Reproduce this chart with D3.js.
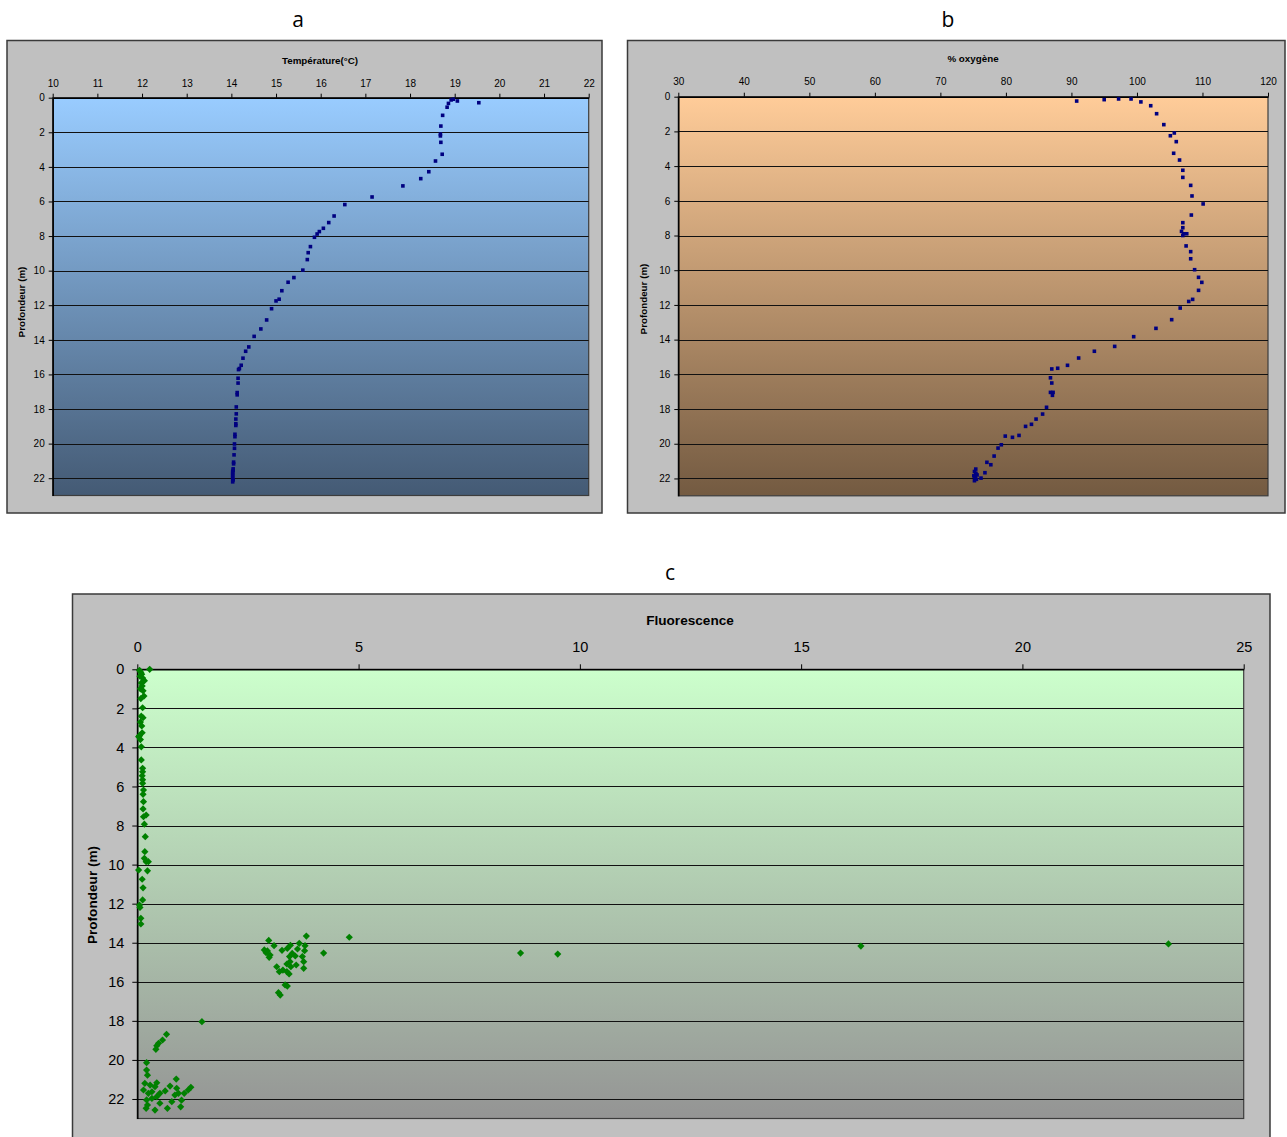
<!DOCTYPE html>
<html lang="fr">
<head>
<meta charset="UTF-8">
<title>Profils</title>
<script src="https://d3js.org/d3.v7.min.js"></script>
<style>
  body { margin: 0; background: #fff; }
  text { font-family: "Liberation Sans", Arial, sans-serif; fill: #000; }
</style>
</head>
<body>
<script>
// ---- données ----
const depthTicks = [0, 2, 4, 6, 8, 10, 12, 14, 16, 18, 20, 22];
const tempTicks = [10, 11, 12, 13, 14, 15, 16, 17, 18, 19, 20, 21, 22];
const oxyTicks = [30, 40, 50, 60, 70, 80, 90, 100, 110, 120];
const fluoTicks = [0, 5, 10, 15, 20, 25];

// a : température (°C) / profondeur (m)
const tempValues = [
  19.54, 19.06, 18.97, 18.92, 18.86, 18.83, 18.73, 18.69, 18.68, 18.68,
  18.69, 18.72, 18.57, 18.42, 18.24, 17.84, 17.15, 16.54, 16.30, 16.18,
  16.06, 15.97, 15.92, 15.86, 15.77, 15.72, 15.70, 15.60, 15.40, 15.27,
  15.13, 15.07, 15.00, 14.90, 14.79, 14.66, 14.51, 14.39, 14.32, 14.26,
  14.22, 14.18, 14.16, 14.15, 14.15, 14.13, 14.13, 14.11, 14.11, 14.10,
  14.10, 14.10, 14.08, 14.08, 14.07, 14.07, 14.06, 14.05, 14.05, 14.04,
  14.03, 14.03, 14.03, 14.03, 14.03, 14.04, 14.03, 14.04
];
const tempDepth = [
  0.29, 0.19, 0.09, 0.13, 0.33, 0.55, 1.02, 1.64, 2.10, 2.21,
  2.58, 3.27, 3.66, 4.28, 4.68, 5.10, 5.74, 6.18, 6.84, 7.22,
  7.55, 7.74, 7.88, 8.07, 8.61, 8.96, 9.36, 9.97, 10.40, 10.67,
  11.16, 11.65, 11.75, 12.20, 12.85, 13.37, 13.80, 14.41, 14.66, 15.06,
  15.47, 15.66, 15.72, 16.22, 16.50, 17.05, 17.18, 17.88, 18.28, 18.58,
  18.85, 18.95, 19.46, 19.60, 20.02, 20.27, 20.65, 21.07, 21.17, 21.46,
  21.62, 21.71, 21.81, 21.90, 22.00, 22.10, 22.21, 21.55
];

// b : % oxygène / profondeur (m)
const oxyValues = [
  90.8, 95.0, 97.2, 99.1, 100.6, 102.1, 103.0, 104.1, 105.7, 105.1,
  106.0, 105.6, 106.5, 107.0, 107.0, 108.2, 108.4, 110.1, 108.3, 107.0,
  107.0, 106.8, 107.1, 107.6, 107.0, 107.5, 108.2, 108.2, 108.8, 109.4,
  109.9, 109.4, 108.5, 107.9, 106.6, 105.3, 102.9, 99.5, 96.6, 93.5,
  91.1, 89.4, 87.9, 87.0, 86.8, 87.0, 86.8, 87.2, 87.1, 86.2,
  85.6, 84.6, 83.9, 83.0, 82.0, 81.0, 79.9, 79.3, 78.8, 78.2,
  77.7, 77.1, 76.8, 76.2, 75.4, 75.2, 75.4, 75.1, 75.3, 75.5,
  75.2, 75.4, 75.3, 75.6
];
const oxyDepth = [
  0.25, 0.17, 0.13, 0.13, 0.30, 0.52, 0.98, 1.61, 2.09, 2.25,
  2.59, 3.26, 3.65, 4.24, 4.65, 5.11, 5.72, 6.18, 6.82, 7.26,
  7.55, 7.76, 7.90, 7.90, 8.00, 8.60, 8.93, 9.34, 9.97, 10.41,
  10.70, 11.16, 11.68, 11.80, 12.18, 12.85, 13.35, 13.83, 14.39, 14.67,
  15.06, 15.48, 15.65, 15.69, 16.20, 16.50, 17.04, 17.04, 17.21, 17.90,
  18.29, 18.58, 18.88, 19.00, 19.52, 19.63, 19.56, 20.06, 20.25, 20.71,
  21.21, 21.07, 21.67, 21.98, 21.46, 21.60, 21.75, 21.85, 21.95, 22.05,
  22.13, 21.70, 21.90, 21.80
];

// c : fluorescence / profondeur (m)
const fluoValues = [
  0.28, 0.05, 0.08, 0.10, 0.06, 0.12, 0.16, 0.09, 0.11, 0.07,
  0.13, 0.15, 0.08, 0.12, 0.09, 0.13, 0.07, 0.10, 0.11, 0.05,
  0.03, 0.07, 0.09, 0.09, 0.12, 0.12, 0.11, 0.12, 0.12, 0.14,
  0.13, 0.14, 0.13, 0.20, 0.14, 0.16, 0.18, 0.17, 0.16, 0.25,
  0.20, 0.03, 0.23, 0.11, 0.13, 0.12, 0.05, 0.06, 0.08, 0.08,
  2.97, 2.87, 2.94, 3.00, 2.98, 2.91, 3.09, 3.27, 3.39, 3.46,
  3.66, 3.82, 3.79, 3.78, 3.62, 3.50, 3.57, 3.44, 3.73, 3.76,
  3.76, 3.59, 3.45, 3.38, 3.15, 3.21, 3.29, 3.38, 3.43, 3.47,
  3.34, 3.39, 3.19, 3.23, 4.21, 4.79, 8.66, 9.50, 16.35, 23.30,
  1.46, 0.66, 0.57, 0.48, 0.44, 0.42, 0.21, 0.21, 0.23, 0.88,
  0.74, 1.21, 1.15, 1.06, 0.89, 0.93, 0.85, 0.63, 0.51, 0.44,
  0.51, 0.78, 1.00, 0.98, 0.68, 0.40, 0.20, 0.29, 0.17, 0.14,
  0.25, 0.33, 0.40, 0.33, 0.21, 0.23, 0.44
];
const fluoDepth = [
  0.00, 0.05, 0.15, 0.25, 0.35, 0.45, 0.58, 0.70, 0.85, 1.00,
  1.10, 1.37, 1.50, 1.97, 2.40, 2.48, 2.70, 2.90, 3.25, 3.40,
  3.45, 3.60, 3.97, 4.64, 5.07, 5.25, 5.45, 5.65, 5.84, 6.18,
  6.40, 6.78, 7.15, 7.46, 7.55, 7.93, 8.57, 9.34, 9.68, 9.85,
  9.85, 10.28, 10.32, 10.75, 11.19, 11.81, 12.07, 12.19, 12.75, 13.04,
  13.88, 14.37, 14.42, 14.63, 14.75, 14.51, 14.15, 14.39, 14.29, 14.13,
  14.03, 13.66, 14.15, 14.41, 14.32, 14.55, 14.68, 14.71, 14.71, 14.97,
  15.31, 15.14, 14.97, 15.09, 15.23, 15.48, 15.40, 15.48, 15.60, 15.23,
  16.16, 16.22, 16.56, 16.68, 14.53, 13.72, 14.53, 14.58, 14.17, 14.06,
  18.04, 18.69, 18.98, 19.15, 19.27, 19.46, 20.14, 20.52, 20.78, 20.98,
  21.34, 21.40, 21.54, 21.71, 21.45, 21.71, 21.80, 21.59, 21.71, 21.88,
  22.22, 22.14, 22.06, 22.40, 22.48, 22.57, 22.48, 21.29, 21.20, 21.54,
  21.71, 21.63, 21.37, 21.97, 22.05, 22.31, 21.17
];

const svg = d3.select("body").append("svg")
  .attr("width", 1287)
  .attr("height", 1137);

const defs = svg.append("defs");

function drawPanel(p) {
  // dégradé du fond
  const grad = defs.append("linearGradient")
    .attr("id", "grad-" + p.id)
    .attr("x1", 0).attr("y1", 0).attr("x2", 0).attr("y2", 1);
  grad.append("stop").attr("offset", "0%").attr("stop-color", p.top);
  grad.append("stop").attr("offset", "100%").attr("stop-color", p.bottom);

  // titre (a, b, c)
  svg.append("text")
    .attr("x", p.letterX).attr("y", p.letterY)
    .attr("text-anchor", "middle")
    .style("font-family", "'Open Sans', 'Liberation Sans', sans-serif")
    .style("font-size", "21px")
    .text(p.letter);

  // cadre gris
  svg.append("rect")
    .attr("x", p.frame[0]).attr("y", p.frame[1])
    .attr("width", p.frame[2] - p.frame[0]).attr("height", p.frame[3] - p.frame[1])
    .attr("fill", "#c0c0c0")
    .attr("stroke", "#3a3a3a")
    .attr("stroke-width", 1.5);

  const x = d3.scaleLinear().domain(p.xDomain).range([p.left, p.right]);
  const y = d3.scaleLinear().domain([0, 23]).range([p.topY, p.bottomY]);

  svg.append("rect")
    .attr("x", p.left).attr("y", p.topY)
    .attr("width", p.right - p.left).attr("height", p.bottomY - p.topY)
    .attr("fill", `url(#grad-${p.id})`)
    .attr("stroke", "#3c3c3c")
    .attr("stroke-width", 1.2);

  // lignes horizontales
  svg.append("g")
    .selectAll("line")
    .data(depthTicks.filter(d => d > 0))
    .join("line")
    .attr("x1", p.left).attr("x2", p.right)
    .attr("y1", d => Math.round(y(d)) + 0.5).attr("y2", d => Math.round(y(d)) + 0.5)
    .attr("stroke", "#111")
    .attr("stroke-width", 1);

  // axe du haut
  const gx = svg.append("g")
    .attr("transform", `translate(0,${p.topY})`)
    .call(d3.axisTop(x).tickValues(p.xTicks).tickSize(p.tick).tickSizeOuter(0).tickPadding(p.xPad));
  // axe de gauche
  const gy = svg.append("g")
    .attr("transform", `translate(${p.left},0)`)
    .call(d3.axisLeft(y).tickValues(depthTicks).tickSize(p.tick).tickSizeOuter(0).tickPadding(p.yPad));
  [gx, gy].forEach(g => {
    g.select(".domain").attr("stroke", "#000").attr("stroke-width", 1.5);
    g.selectAll(".tick line").attr("stroke", "#000");
    g.selectAll(".tick text")
      .style("font-family", "'Liberation Sans', Arial, sans-serif")
      .style("font-size", p.fontSize + "px")
      .attr("fill", "#000");
  });

  // titres des axes
  svg.append("text")
    .attr("x", p.xTitle[0]).attr("y", p.xTitle[1])
    .attr("text-anchor", "middle")
    .style("font-weight", "bold")
    .style("font-size", p.titleSize + "px")
    .text(p.xLabel);
  svg.append("text")
    .attr("transform", `translate(${p.yTitle[0]},${p.yTitle[1]}) rotate(-90)`)
    .attr("text-anchor", "middle")
    .style("font-weight", "bold")
    .style("font-size", p.titleSize + "px")
    .text("Profondeur (m)");

  // points
  const pts = p.values.map((v, i) => ({ v: v, d: p.depth[i] }));
  if (p.marker === "square") {
    svg.append("g").selectAll("rect")
      .data(pts)
      .join("rect")
      .attr("x", d => x(d.v) - 1.8)
      .attr("y", d => y(d.d) - 1.8)
      .attr("width", 3.6).attr("height", 3.6)
      .attr("fill", "#000080");
  } else {
    const r = 3.6;
    svg.append("g").selectAll("path")
      .data(pts)
      .join("path")
      .attr("transform", d => `translate(${x(d.v)},${y(d.d)})`)
      .attr("d", `M0,${-r}L${r},0L0,${r}L${-r},0Z`)
      .attr("fill", "#008000");
  }
}

drawPanel({
  id: "a", letter: "a", letterX: 298, letterY: 27,
  frame: [7, 40.5, 602, 513],
  left: 52.7, right: 588.7, topY: 97.7, bottomY: 495.5,
  xDomain: [10, 22], xTicks: tempTicks,
  top: "#99ccff", bottom: "#445a74",
  tick: 4, xPad: 7, yPad: 4, fontSize: 10, titleSize: 9.8,
  xTitle: [320, 64], yTitle: [25, 302], xLabel: "Température(°C)",
  values: tempValues, depth: tempDepth, marker: "square"
});

drawPanel({
  id: "b", letter: "b", letterX: 948, letterY: 27,
  frame: [627.5, 40.5, 1285, 513],
  left: 678.3, right: 1268, topY: 96.7, bottomY: 495.8,
  xDomain: [30, 120], xTicks: oxyTicks,
  top: "#ffcc99", bottom: "#735a41",
  tick: 4, xPad: 8, yPad: 4, fontSize: 10, titleSize: 9.8,
  xTitle: [973, 62], yTitle: [647, 299], xLabel: "% oxygène",
  values: oxyValues, depth: oxyDepth, marker: "square"
});

drawPanel({
  id: "c", letter: "c", letterX: 670, letterY: 580,
  frame: [72.5, 594, 1270, 1145],
  left: 137.3, right: 1243.7, topY: 669.3, bottomY: 1118.5,
  xDomain: [0, 25], xTicks: fluoTicks,
  top: "#ccffcc", bottom: "#949494",
  tick: 5, xPad: 12, yPad: 8, fontSize: 14.5, titleSize: 13.6,
  xTitle: [690, 625], yTitle: [97, 895], xLabel: "Fluorescence",
  values: fluoValues, depth: fluoDepth, marker: "diamond"
});
</script>
</body>
</html>
